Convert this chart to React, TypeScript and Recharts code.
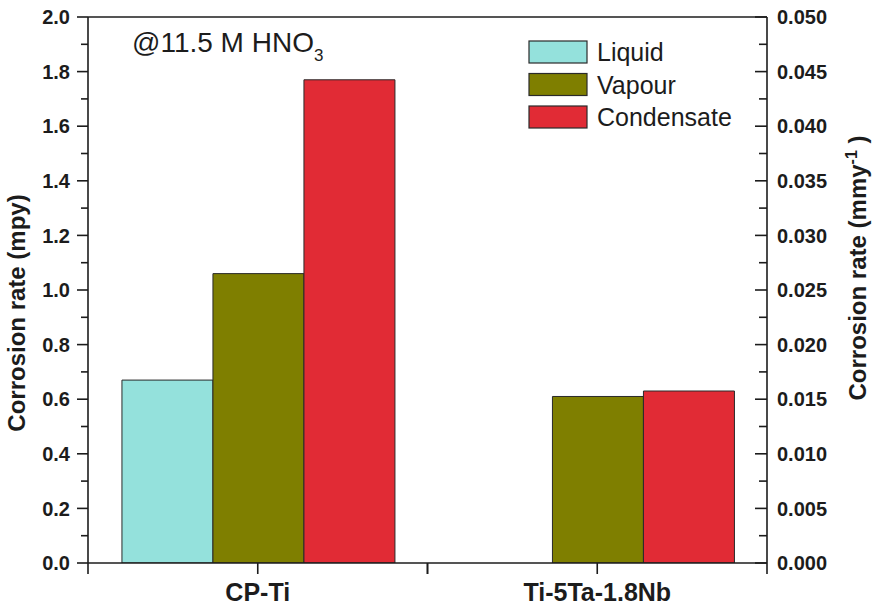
import React from 'react';
import { BarChart, Bar, XAxis, YAxis, ReferenceLine } from 'recharts';

// ---------- data ----------
const categories = ['CP-Ti', 'Ti-5Ta-1.8Nb'];
const liquidValues: (number | null)[] = [0.67, null];
const vapourValues: (number | null)[] = [1.06, 0.61];
const condensateValues: (number | null)[] = [1.77, 0.63];
const seriesNames = ['Liquid', 'Vapour', 'Condensate'];
const seriesColors = ['#94E1DC', '#7F7F00', '#E12B35'];

const leftMajorTicks = [0, 0.2, 0.4, 0.6, 0.8, 1.0, 1.2, 1.4, 1.6, 1.8, 2.0];
const leftMinorTicks = [0.1, 0.3, 0.5, 0.7, 0.9, 1.1, 1.3, 1.5, 1.7, 1.9];
const rightMajorTicks = [0, 0.005, 0.01, 0.015, 0.02, 0.025, 0.03, 0.035, 0.04, 0.045, 0.05];
const rightMinorTicks = [0.0025, 0.0075, 0.0125, 0.0175, 0.0225, 0.0275, 0.0325, 0.0375, 0.0425, 0.0475];

const annotationMain = '@11.5 M HNO';
const annotationSub = '3';
const leftTitle = 'Corrosion rate (mpy)';
const rightTitleMain = 'Corrosion rate (mmy';
const rightTitleSup = '-1';
const rightTitleEnd = ' )';

// ---------- layout / style ----------
const W = 878;
const H = 606;
const PLOT_LEFT = 88;
const PLOT_RIGHT = 767;
const PLOT_TOP = 17;
const PLOT_BOTTOM = 563;
const AXIS = '#1c1c1c';
const AXIS_W = 1.6;
const FONT = 'Arial, "Liberation Sans", sans-serif';
const HALF_BAND = (PLOT_RIGHT - PLOT_LEFT) / categories.length / 2;

const data = categories.map((c, i) => ({
  category: c,
  Liquid: liquidValues[i],
  Vapour: vapourValues[i],
  Condensate: condensateValues[i],
}));

const leftTicks = [...leftMajorTicks, ...leftMinorTicks].sort((a, b) => a - b);
const rightTicks = [...rightMajorTicks, ...rightMinorTicks].sort((a, b) => a - b);

const LeftTick = (props: any) => {
  const { x, y, payload } = props;
  const v = payload.value;
  const major = leftMajorTicks.includes(v);
  return (
    <g>
      <line x1={x - (major ? 11 : 7)} x2={x} y1={y} y2={y} stroke={AXIS} strokeWidth={AXIS_W} />
      {major && (
        <text x={x - 18} y={y} dy="0.36em" textAnchor="end" fontSize={20} fontWeight="bold" fill={AXIS} fontFamily={FONT}>
          {v.toFixed(1)}
        </text>
      )}
    </g>
  );
};

const RightTick = (props: any) => {
  const { x, y, payload } = props;
  const v = payload.value;
  const major = rightMajorTicks.includes(v);
  return (
    <g>
      <line x1={x} x2={x - (major ? 12 : 8)} y1={y} y2={y} stroke={AXIS} strokeWidth={AXIS_W} />
      {major && (
        <text x={x + 10} y={y} dy="0.36em" textAnchor="start" fontSize={20} fontWeight="bold" fill={AXIS} fontFamily={FONT}>
          {v.toFixed(3)}
        </text>
      )}
    </g>
  );
};

const BottomTick = (props: any) => {
  const { x, y, payload } = props;
  return (
    <g>
      <line x1={x} x2={x} y1={y} y2={y + 11} stroke={AXIS} strokeWidth={AXIS_W} />
      <line x1={x - HALF_BAND} x2={x - HALF_BAND} y1={y} y2={y + 11} stroke={AXIS} strokeWidth={AXIS_W} />
      <line x1={x + HALF_BAND} x2={x + HALF_BAND} y1={y} y2={y + 11} stroke={AXIS} strokeWidth={AXIS_W} />
      <text x={x} y={y + 38} textAnchor="middle" fontSize={25} fontWeight="bold" fill={AXIS} fontFamily={FONT}>
        {payload.value}
      </text>
    </g>
  );
};

export default function App() {
  return (
    <div style={{ position: 'relative', width: W, height: H, background: '#fff' }}>
      <style>{'body{margin:0;}'}</style>
      <BarChart
        width={W}
        height={H}
        data={data}
        margin={{ top: PLOT_TOP, right: 0, bottom: 0, left: 0 }}
        barCategoryGap="10%"
        barGap={0}
      >
        <XAxis
          dataKey="category"
          xAxisId={0}
          height={H - PLOT_BOTTOM}
          interval={0}
          tickSize={0}
          tickMargin={0}
          tick={<BottomTick />}
          axisLine={{ stroke: AXIS, strokeWidth: AXIS_W }}
          tickLine={false}
        />
        <YAxis
          yAxisId="left"
          orientation="left"
          width={PLOT_LEFT}
          domain={[0, 2]}
          ticks={leftTicks}
          interval={0}
          tickSize={0}
          tickMargin={0}
          tick={<LeftTick />}
          axisLine={{ stroke: AXIS, strokeWidth: AXIS_W }}
          tickLine={false}
          allowDataOverflow
        />
        <YAxis
          yAxisId="right"
          orientation="right"
          width={W - PLOT_RIGHT}
          domain={[0, 0.05]}
          ticks={rightTicks}
          interval={0}
          tickSize={0}
          tickMargin={0}
          tick={<RightTick />}
          axisLine={{ stroke: AXIS, strokeWidth: AXIS_W }}
          tickLine={false}
          allowDataOverflow
        />
        <ReferenceLine yAxisId="left" y={2} stroke={AXIS} strokeWidth={AXIS_W} ifOverflow="visible" />
        {seriesNames.map((name, i) => (
          <Bar
            key={name}
            dataKey={name}
            yAxisId="left"
            fill={seriesColors[i]}
            stroke="#2a2a2a"
            strokeWidth={1}
            isAnimationActive={false}
          />
        ))}
      </BarChart>
      <svg
        width={W}
        height={H}
        style={{ position: 'absolute', left: 0, top: 0, pointerEvents: 'none' }}
        fontFamily={FONT}
      >
        <text x={132} y={52} fontSize={28} fill={AXIS}>
          {annotationMain}
          <tspan dy={9} fontSize={17}>{annotationSub}</tspan>
        </text>
        {seriesNames.map((name, i) => (
          <g key={name}>
            <rect x={529} y={41 + i * 32.5} width={58} height={22} fill={seriesColors[i]} stroke="#2a2a2a" strokeWidth={1.2} />
            <text x={597} y={61 + i * 32.5} fontSize={25} fill={AXIS}>{name}</text>
          </g>
        ))}
        <text transform="translate(25, 313) rotate(-90)" textAnchor="middle" fontSize={24} fontWeight="bold" fill={AXIS}>
          {leftTitle}
        </text>
        <text transform="translate(866, 268) rotate(-90)" textAnchor="middle" fontSize={24} fontWeight="bold" fill={AXIS}>
          {rightTitleMain}
          <tspan dy={-9} fontSize={16}>{rightTitleSup}</tspan>
          <tspan dy={9}>{rightTitleEnd}</tspan>
        </text>
      </svg>
    </div>
  );
}
